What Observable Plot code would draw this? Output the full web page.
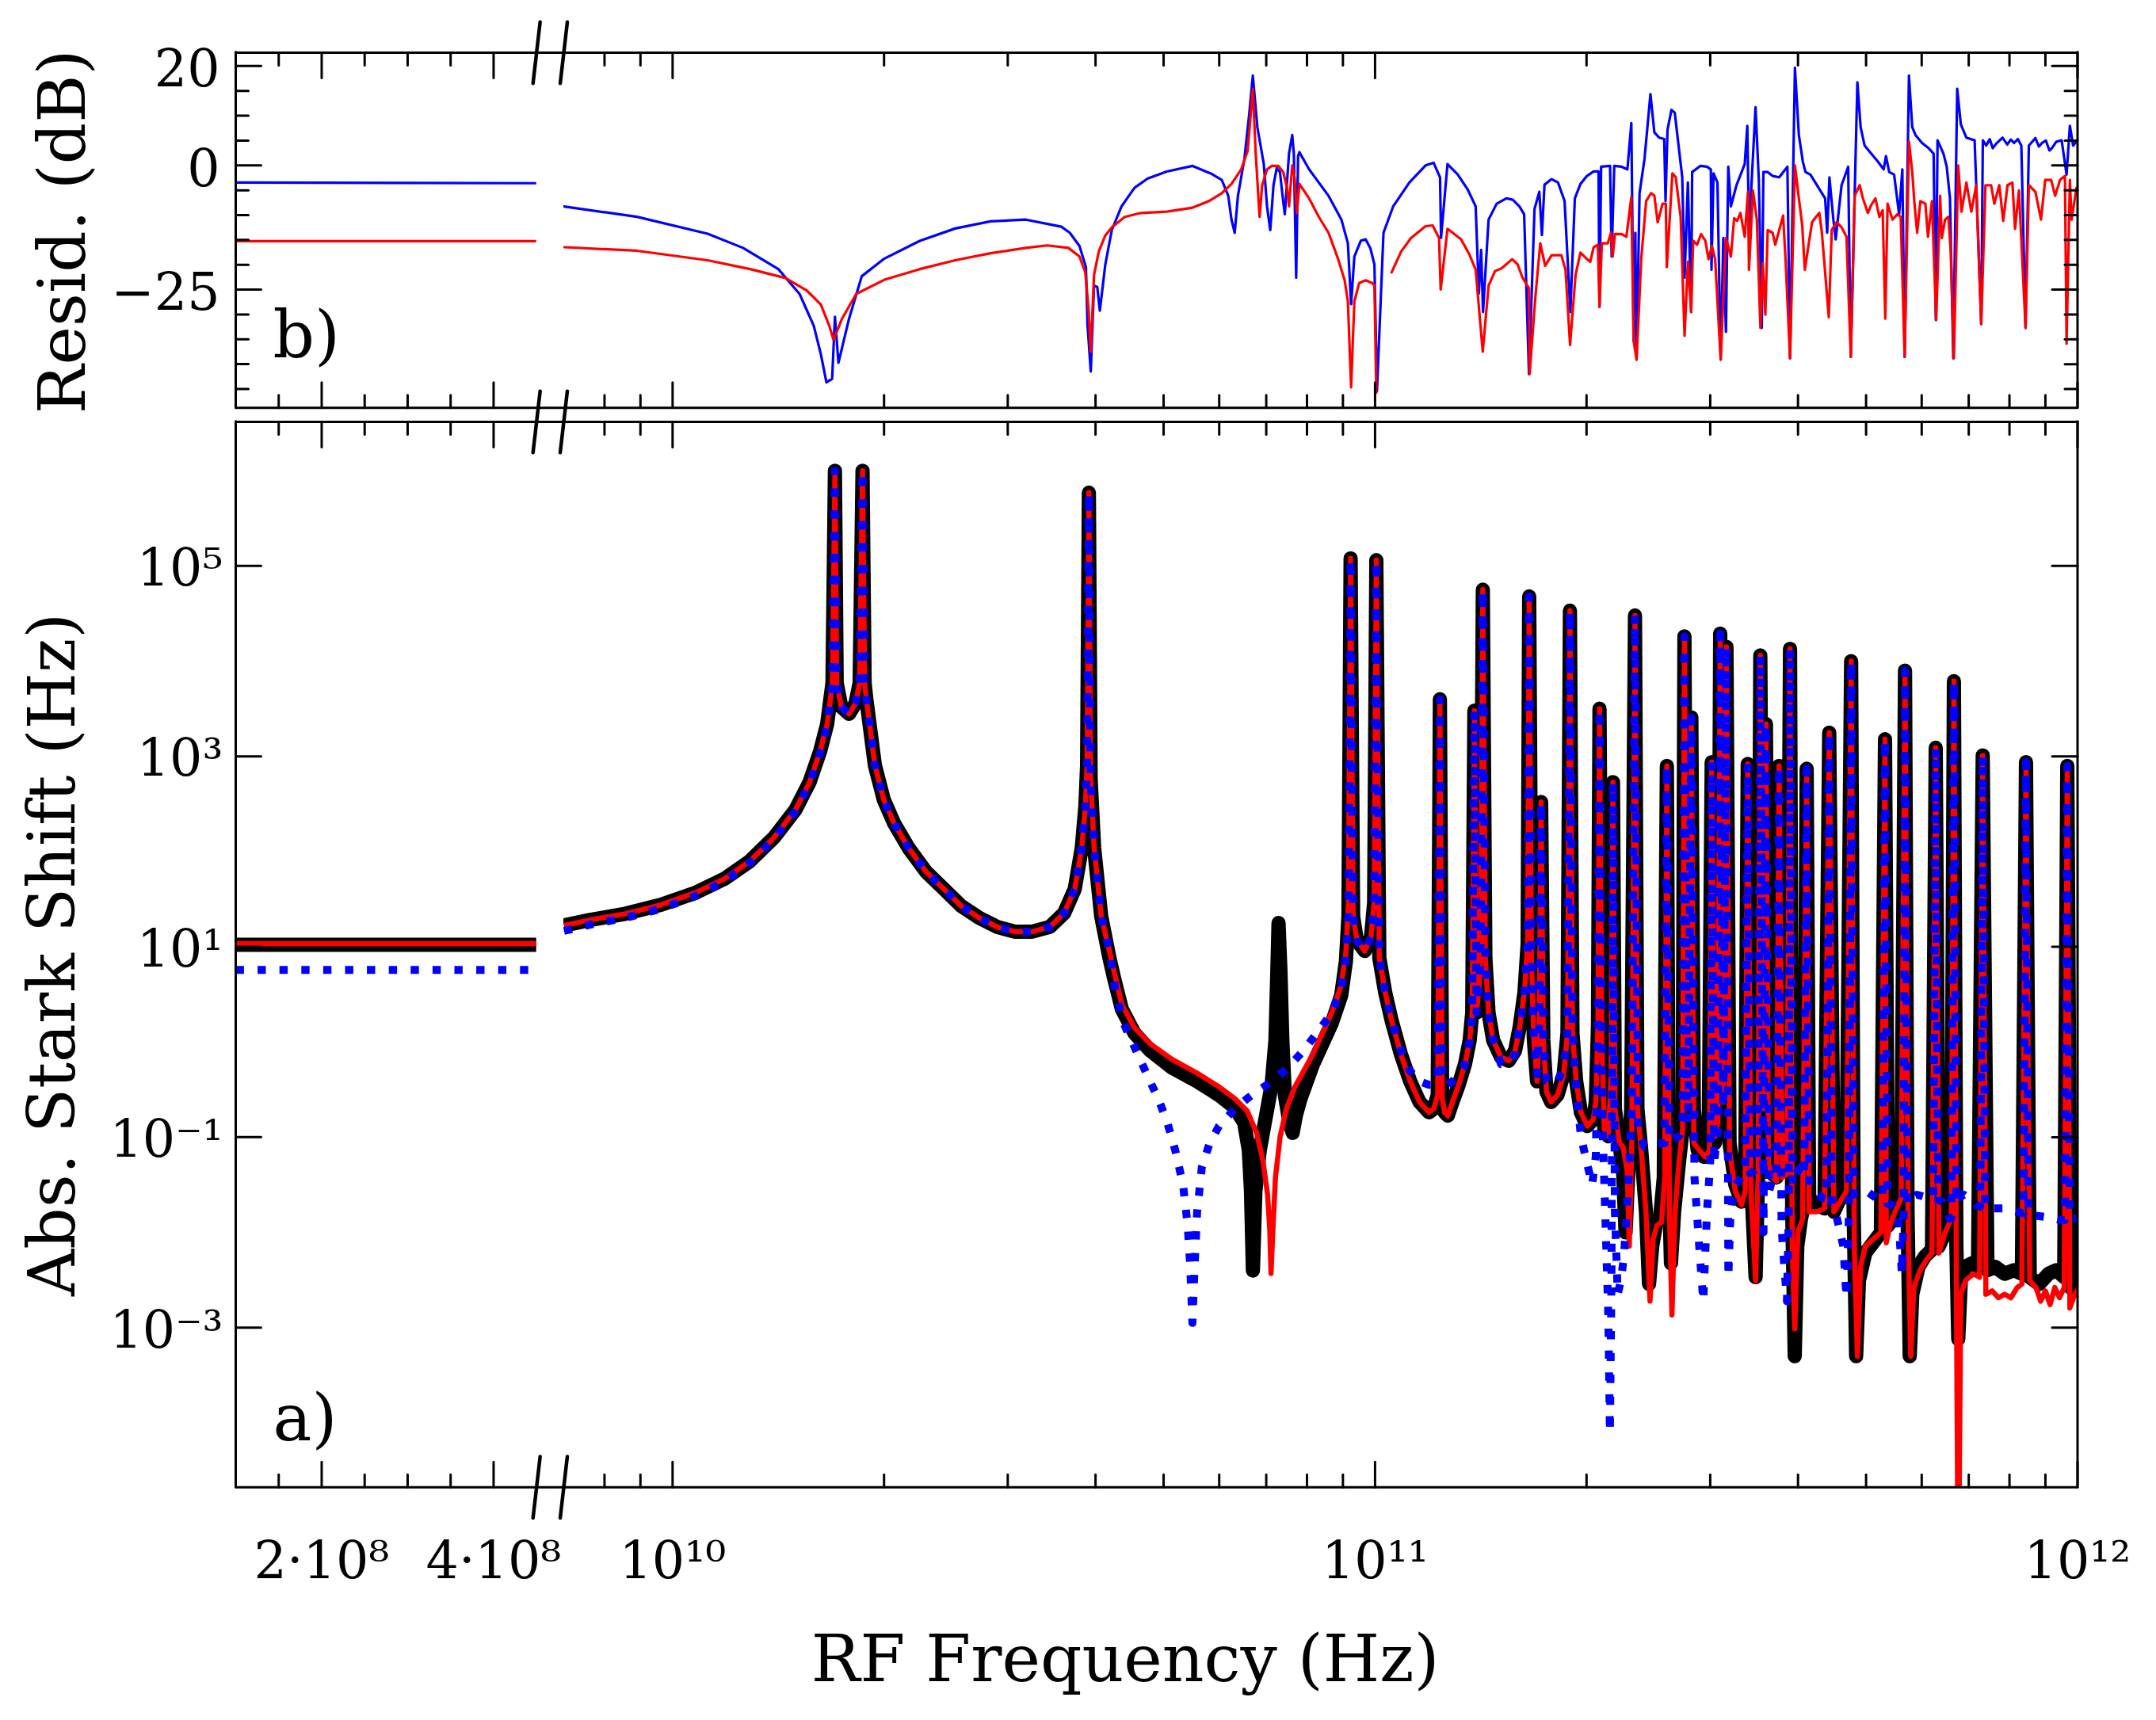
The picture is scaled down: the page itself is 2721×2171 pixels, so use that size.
<!DOCTYPE html>
<html>
<head>
<meta charset="utf-8">
<script src="https://cdn.jsdelivr.net/npm/d3@7"></script>
<script src="https://cdn.jsdelivr.net/npm/@observablehq/plot@0.6"></script>
<style>
  html, body { margin: 0; padding: 0; background: #fff; overflow: hidden; }
  #chart { position: relative; width: 2721px; height: 2171px; background: #fff; }
</style>
</head>
<body>
<div id="chart"></div>
<script>
// ---------------- DATA ----------------
// Frequencies and shifts are given as log10 exponents, residuals in dB.

// low-frequency segment (linear axis, 1e8 .. 4.5e8 Hz)
const lowFreq = [1e8, 4.5e8];
const lowExactShift = [10.5, 10.5];
const lowFitShift = [10.8, 10.8];
const lowApproxShift = [5.7, 5.7];
const lowResidApprox = [-3.43, -3.58];
const lowResidFit = [-15.25, -15.25];

// high-frequency segment, panel a: [log10 f, log10 shift]
const commonStart = [[9.8454,1.224],[9.8827,1.282],[9.9330,1.347],[9.9834,1.441],[10.0337,1.571],[10.0740,1.715],[10.1092,1.895],[10.1445,2.148],[10.1747,2.437],[10.1948,2.725],[10.2099,3.050],[10.2200,3.338],[10.2276,3.771]];
const approxStart = [[9.8454,1.167],[9.8827,1.232],[9.9330,1.304],[9.9834,1.398],[10.0337,1.535],[10.0740,1.686],[10.1092,1.874],[10.1445,2.133],[10.1747,2.422],[10.1948,2.711],[10.2099,3.035],[10.2200,3.331],[10.2276,3.764]];
const sharedPeaks1 = [[10.2311,6.00],[10.2336,3.771],[10.2402,3.519],[10.2512,3.447],[10.2603,3.555],[10.2663,3.771],[10.2704,6.00],[10.2734,3.771],[10.2754,3.627],[10.2804,3.338],[10.2880,2.906],[10.3006,2.545],[10.3157,2.292],[10.3358,2.040],[10.3610,1.787],[10.3862,1.607],[10.4113,1.426],[10.4365,1.304],[10.4617,1.210],[10.4869,1.159],[10.5121,1.159],[10.5372,1.210],[10.5574,1.354],[10.5725,1.607],[10.5825,2.040],[10.5876,2.473],[10.5901,2.906],[10.5926,5.77],[10.5951,2.761],[10.6001,2.040],[10.6102,1.318]];
const exactMid = [[10.6218,0.885],[10.6285,0.669],[10.6396,0.344],[10.6575,0.092],[10.6798,-0.089],[10.7110,-0.269],[10.7467,-0.413],[10.7779,-0.558],[10.8002,-0.688],[10.8136,-0.846],[10.8203,-1.135],[10.8234,-1.568],[10.8261,-2.40],[10.8296,-1.568],[10.8359,-1.135],[10.8448,-0.774],[10.8528,-0.449],[10.8582,0.019],[10.8609,0.741],[10.8626,1.25],[10.8653,0.741],[10.8680,0.019],[10.8716,-0.558],[10.8782,-0.846],[10.8827,-0.955],[10.8872,-0.774],[10.8939,-0.594],[10.9028,-0.413],[10.9117,-0.233],[10.9251,-0.017],[10.9385,0.200],[10.9518,0.489],[10.9585,0.849],[10.9621,1.318]];
const fitMid = [[10.6218,0.957],[10.6285,0.741],[10.6396,0.395],[10.6575,0.149],[10.6798,-0.017],[10.7110,-0.183],[10.7467,-0.327],[10.7779,-0.471],[10.8002,-0.594],[10.8180,-0.724],[10.8314,-0.955],[10.8403,-1.243],[10.8470,-1.604],[10.8501,-1.965],[10.8519,-2.43],[10.8546,-1.965],[10.8582,-1.423],[10.8649,-0.991],[10.8738,-0.702],[10.8849,-0.486],[10.8983,-0.305],[10.9117,-0.125],[10.9251,0.092],[10.9385,0.308],[10.9518,0.597],[10.9585,0.943],[10.9621,1.463]];
const approxMid = [[10.6218,0.957],[10.6307,0.525],[10.6419,0.200],[10.6553,-0.017],[10.6686,-0.233],[10.6798,-0.413],[10.6932,-0.630],[10.7043,-0.846],[10.7155,-1.135],[10.7266,-1.496],[10.7333,-1.928],[10.7369,-2.361],[10.7400,-2.95],[10.7431,-2.361],[10.7467,-1.784],[10.7534,-1.315],[10.7645,-1.063],[10.7779,-0.882],[10.8002,-0.702],[10.8180,-0.594],[10.8314,-0.522],[10.8537,-0.413],[10.8760,-0.269],[10.8983,-0.089],[10.9206,0.128],[10.9385,0.308],[10.9518,0.561],[10.9585,0.885],[10.9621,1.318]];
const exactPeaks2 = [[10.9652,5.08],[10.9688,1.318],[10.9741,1.066],[10.9853,0.957],[10.9942,1.102],[10.9987,1.463],[11.0018,5.06],[11.0060,0.885],[11.0143,0.525],[11.0232,0.236],[11.0366,-0.125],[11.0500,-0.413],[11.0633,-0.630],[11.0767,-0.738],[11.0834,-0.702],[11.0892,-0.558],[11.0923,3.60],[11.0955,-0.594],[11.0990,-0.738],[11.1035,-0.774],[11.1102,-0.630],[11.1191,-0.449],[11.1280,-0.233],[11.1347,0.019],[11.1383,0.308],[11.1414,3.48],[11.1445,0.308],[11.1481,0.597],[11.1503,0.885],[11.1534,4.75],[11.1570,0.885],[11.1615,0.308],[11.1681,0.019],[11.1793,-0.161],[11.1904,-0.197],[11.1994,-0.089],[11.2060,0.164],[11.2127,0.525],[11.2172,1.030],[11.2194,4.68],[11.2225,0.885],[11.2261,0.019],[11.2306,-0.413],[11.2337,0.164],[11.2364,2.52],[11.2395,0.019],[11.2440,-0.522],[11.2507,-0.630],[11.2596,-0.558],[11.2685,-0.341],[11.2739,0.092],[11.2774,4.53],[11.2810,0.092],[11.2863,-0.413],[11.2930,-0.738],[11.3019,-0.882],[11.3108,-0.810]];
const approxPeaks2 = [[10.9652,5.08],[10.9688,1.318],[10.9741,1.066],[10.9853,0.957],[10.9942,1.102],[10.9987,1.463],[11.0018,5.06],[11.0060,0.885],[11.0143,0.525],[11.0232,0.236],[11.0366,-0.089],[11.0500,-0.305],[11.0633,-0.413],[11.0767,-0.449],[11.0834,-0.449],[11.0892,-0.400],[11.0923,3.60],[11.0955,-0.413],[11.1035,-0.449],[11.1102,-0.413],[11.1191,-0.341],[11.1280,-0.233],[11.1347,0.019],[11.1383,0.308],[11.1414,3.48],[11.1445,0.308],[11.1481,0.597],[11.1503,0.885],[11.1534,4.75],[11.1570,0.885],[11.1615,0.308],[11.1681,0.019],[11.1793,-0.233],[11.1904,-0.233],[11.1994,-0.125],[11.2060,0.164],[11.2127,0.525],[11.2172,1.030],[11.2194,4.68],[11.2225,0.885],[11.2261,0.019],[11.2306,-0.341],[11.2337,0.164],[11.2364,2.52],[11.2395,0.019],[11.2440,-0.413],[11.2507,-0.449],[11.2596,-0.413],[11.2685,-0.269],[11.2739,0.092],[11.2774,4.53],[11.2810,0.092],[11.2863,-0.486],[11.2930,-0.991],[11.3019,-1.279],[11.3090,-1.50]];
const exactTail = [[11.3142,-0.630],[11.3173,0.164],[11.3195,3.50],[11.3227,0.019],[11.3263,-0.918],[11.3320,-0.991],[11.3361,-0.341],[11.3387,2.73],[11.3414,-0.702],[11.3477,-1.063],[11.3530,-1.351],[11.3566,-2.000],[11.3601,-1.423],[11.3646,-0.702],[11.3700,4.48],[11.3735,-0.702],[11.3789,-1.135],[11.3856,-1.784],[11.3900,-2.542],[11.3945,-2.145],[11.4003,-1.893],[11.4056,-1.856],[11.4110,-1.423],[11.4154,2.90],[11.4181,-1.423],[11.4212,-2.325],[11.4257,-1.784],[11.4324,-1.279],[11.4378,-0.918],[11.4404,4.26],[11.4440,-0.702],[11.4480,-0.558],[11.4502,3.41],[11.4538,-0.702],[11.4592,-1.135],[11.4681,-1.207],[11.4748,-1.135],[11.4792,2.94],[11.4837,-1.063],[11.4881,-0.846],[11.4913,4.29],[11.4957,-0.630],[11.5002,4.15],[11.5046,-1.063],[11.5127,-1.496],[11.5216,-1.676],[11.5269,-1.568],[11.5305,2.92],[11.5350,-1.423],[11.5417,-2.470],[11.5452,-1.423],[11.5484,4.06],[11.5528,-0.702],[11.5564,3.34],[11.5599,-1.063],[11.5662,-1.387],[11.5715,-1.423],[11.5751,2.90],[11.5796,-1.351],[11.5863,-1.351],[11.5907,4.13],[11.5938,-1.784],[11.5974,-3.30],[11.6010,-2.145],[11.6063,-1.856],[11.6108,-1.712],[11.6144,2.87],[11.6179,-1.640],[11.6286,-1.712],[11.6398,-1.748],[11.6465,3.25],[11.6532,-1.784],[11.6621,-1.640],[11.6710,-1.496],[11.6777,4.00],[11.6813,-1.784],[11.6848,-3.30],[11.6888,-2.506],[11.6978,-2.217],[11.7089,-2.109],[11.7201,-2.000],[11.7259,3.18],[11.7303,-1.928],[11.7401,-1.784],[11.7490,-1.640],[11.7544,3.90],[11.7580,-1.784],[11.7611,-3.30],[11.7647,-2.650],[11.7736,-2.361],[11.7825,-2.253],[11.7928,-2.181],[11.7981,3.09],[11.8026,-2.145],[11.8115,-2.000],[11.8204,-1.856],[11.8240,3.79],[11.8275,-2.145],[11.8302,-3.12],[11.8338,-2.506],[11.8405,-2.361],[11.8494,-2.325],[11.8583,-2.361],[11.8650,3.01],[11.8717,-2.397],[11.8828,-2.361],[11.8962,-2.434],[11.9096,-2.397],[11.9208,-2.434],[11.9266,2.94],[11.9319,-2.470],[11.9453,-2.542],[11.9587,-2.434],[11.9698,-2.397],[11.9810,-2.470],[11.9854,2.90],[11.9899,-2.578],[11.9979,-2.506],[12.0,-2.50]];
const fitTail = [[11.3142,-0.630],[11.3173,0.164],[11.3195,3.50],[11.3227,0.019],[11.3263,-0.918],[11.3320,-0.991],[11.3361,-0.341],[11.3387,2.73],[11.3414,-0.702],[11.3477,-1.063],[11.3530,-1.100],[11.3588,-1.351],[11.3619,-2.145],[11.3655,-1.063],[11.3700,4.48],[11.3735,-0.702],[11.3789,-1.135],[11.3856,-1.784],[11.3914,-2.722],[11.3958,-2.072],[11.4012,-1.928],[11.4079,-1.893],[11.4123,-1.423],[11.4154,2.90],[11.4190,-1.784],[11.4226,-2.866],[11.4270,-1.784],[11.4324,-1.279],[11.4378,-0.918],[11.4404,4.26],[11.4440,-0.702],[11.4480,-0.558],[11.4502,3.41],[11.4538,-1.063],[11.4614,-1.135],[11.4703,-1.207],[11.4761,-1.135],[11.4792,2.94],[11.4837,-0.991],[11.4881,-0.846],[11.4913,4.29],[11.4957,-0.630],[11.5002,4.15],[11.5046,-1.135],[11.5127,-1.568],[11.5216,-1.712],[11.5269,-1.568],[11.5305,2.92],[11.5350,-1.568],[11.5417,-2.506],[11.5452,-1.423],[11.5484,4.06],[11.5528,-0.702],[11.5564,3.34],[11.5599,-1.279],[11.5662,-1.423],[11.5715,-1.459],[11.5751,2.90],[11.5796,-1.423],[11.5863,-1.387],[11.5907,4.13],[11.5938,-2.145],[11.5974,-3.011],[11.6019,-2.000],[11.6086,-1.856],[11.6144,2.87],[11.6179,-1.784],[11.6286,-1.784],[11.6398,-1.748],[11.6465,3.25],[11.6532,-1.784],[11.6621,-1.676],[11.6710,-1.568],[11.6777,4.00],[11.6822,-2.145],[11.6866,-3.299],[11.6911,-2.361],[11.6978,-2.145],[11.7089,-2.072],[11.7201,-2.000],[11.7259,3.18],[11.7277,-2.109],[11.7330,-1.928],[11.7401,-1.784],[11.7490,-1.640],[11.7544,3.90],[11.7589,-2.000],[11.7625,-3.299],[11.7669,-2.578],[11.7758,-2.397],[11.7848,-2.289],[11.7928,-2.217],[11.7981,3.09],[11.8026,-2.217],[11.8115,-2.000],[11.8204,-1.856],[11.8240,3.79],[11.8275,-2.506],[11.8302,-6.0],[11.8338,-2.650],[11.8405,-2.506],[11.8516,-2.434],[11.8605,-2.470],[11.8650,3.01],[11.8695,-2.650],[11.8784,-2.614],[11.8873,-2.686],[11.8962,-2.650],[11.9052,-2.686],[11.9141,-2.578],[11.9208,-2.542],[11.9266,2.94],[11.9319,-2.506],[11.9408,-2.578],[11.9475,-2.722],[11.9542,-2.614],[11.9609,-2.758],[11.9676,-2.578],[11.9743,-2.686],[11.9810,-2.578],[11.9854,2.90],[11.9890,-2.794],[11.9943,-2.686],[12.0,-2.60]];
const approxTail = [[11.3142,-1.20],[11.3173,0.164],[11.3195,3.50],[11.3231,-0.702],[11.3276,-1.784],[11.3320,-2.866],[11.3343,-4.10],[11.3365,-2.506],[11.3387,2.73],[11.3414,-1.784],[11.3454,-2.650],[11.3499,-2.506],[11.3543,-2.253],[11.3610,-1.423],[11.3655,-0.702],[11.3700,4.48],[11.3744,-0.918],[11.3833,-1.099],[11.4012,-1.063],[11.4123,-1.063],[11.4154,2.90],[11.4190,-1.05],[11.4212,-1.027],[11.4324,-0.991],[11.4378,-0.918],[11.4404,4.26],[11.4440,-0.85],[11.4458,-0.846],[11.4502,3.41],[11.4547,-1.423],[11.4614,-2.145],[11.4672,-2.722],[11.4725,-1.784],[11.4770,-1.279],[11.4792,2.94],[11.4824,-1.279],[11.4881,-0.918],[11.4913,4.29],[11.4957,-0.702],[11.5002,4.15],[11.5029,-2.470],[11.5060,-1.784],[11.5127,-1.496],[11.5216,-1.423],[11.5269,-1.387],[11.5305,2.92],[11.5340,-1.38],[11.5394,-1.351],[11.5452,-1.279],[11.5484,4.06],[11.5530,-2.000],[11.5564,3.34],[11.5610,-1.568],[11.5662,-1.423],[11.5715,-1.423],[11.5751,2.90],[11.5786,-1.90],[11.5804,-2.145],[11.5863,-2.722],[11.5890,-1.784],[11.5907,4.13],[11.5942,-1.50],[11.5951,-1.423],[11.6063,-1.315],[11.6109,-1.40],[11.6144,2.87],[11.6179,-1.50],[11.6197,-1.532],[11.6376,-1.640],[11.6430,-1.65],[11.6465,3.25],[11.6500,-1.70],[11.6554,-1.784],[11.6666,-2.145],[11.6710,-2.686],[11.6746,-1.784],[11.6777,4.00],[11.6812,-1.60],[11.6866,-1.568],[11.7000,-1.568],[11.7134,-1.640],[11.7224,-1.66],[11.7259,3.18],[11.7294,-1.70],[11.7357,-1.712],[11.7446,-1.784],[11.7499,-2.434],[11.7526,-1.784],[11.7544,3.90],[11.7580,-1.70],[11.7624,-1.640],[11.7713,-1.604],[11.7892,-1.640],[11.7946,-1.64],[11.7981,3.09],[11.8016,-1.66],[11.8070,-1.676],[11.8182,-1.856],[11.8205,-1.85],[11.8240,3.79],[11.8275,-1.70],[11.8293,-1.640],[11.8383,-1.604],[11.8561,-1.712],[11.8615,-1.73],[11.8650,3.01],[11.8685,-1.74],[11.8784,-1.748],[11.8962,-1.748],[11.9141,-1.784],[11.9231,-1.80],[11.9266,2.94],[11.9301,-1.80],[11.9364,-1.820],[11.9587,-1.842],[11.9765,-1.871],[11.9820,-1.87],[11.9854,2.90],[11.9890,-1.86],[11.9979,-1.856],[12.0,-1.86]];

// panel b: [log10 f, residual dB]; null marks a gap
const residApproxHigh = [[9.8454,-8.27],[9.9491,-10.34],[10.0498,-13.75],[10.1002,-16.60],[10.1505,-20.87],[10.1807,-25.86],[10.2009,-32.27],[10.2110,-37.96],[10.2190,-43.66],[10.2271,-42.94],[10.2311,-30.48],[10.2361,-39.74],[10.2512,-30.84],[10.2693,-22.30],[10.3016,-18.74],[10.3519,-15.18],[10.4023,-12.69],[10.4526,-11.26],[10.5029,-10.91],[10.5533,-12.33],[10.5654,-13.55],[10.5792,-16.21],[10.5884,-20.47],[10.5907,-32.16],[10.5953,-41.47],[10.5999,-24.19],[10.6045,-24.45],[10.6082,-29.24],[10.6160,-19.93],[10.6252,-13.02],[10.6391,-8.24],[10.6575,-4.52],[10.6759,-2.66],[10.7035,-1.22],[10.7403,-0.10],[10.7680,-1.75],[10.7818,-2.92],[10.7910,-6.11],[10.7956,-10.90],[10.8002,-13.55],[10.8048,-6.11],[10.8140,1.33],[10.8209,10.37],[10.8260,18.08],[10.8324,7.71],[10.8416,0.27],[10.8462,-8.24],[10.8508,-13.02],[10.8554,-3.98],[10.8600,-0.53],[10.8646,-1.33],[10.8683,-6.11],[10.8715,-9.83],[10.8775,2.39],[10.8821,6.12],[10.8844,2.39],[10.8877,-22.59],[10.8904,1.86],[10.8923,2.66],[10.9061,-0.80],[10.9337,-6.11],[10.9521,-10.90],[10.9613,-15.68],[10.9659,-27.91],[10.9705,-18.34],[10.9797,-15.15],[10.9866,-14.88],[10.9935,-16.74],[10.9991,-19.93],[11.0027,-45.45],[11.0120,-13.55],[11.0258,-8.24],[11.0488,-3.45],[11.0718,0.00],[11.0833,0.53],[11.0925,-2.39],[11.0939,-14.62],[11.1031,0.27],[11.1178,-1.86],[11.1316,-4.78],[11.1432,-8.24],[11.1478,-25.78],[11.1510,-17.01],[11.1537,-29.5],[11.1616,-10.90],[11.1731,-7.71],[11.1869,-6.64],[11.1961,-6.91],[11.2053,-8.24],[11.2122,-9.83],[11.2191,-42.00],[11.2270,-8.77],[11.2338,-5.31],[11.2375,-14.0],[11.2412,-3.88],[11.2513,-2.76],[11.2605,-3.45],[11.2698,-7.18],[11.2780,-29.5],[11.2844,-6.64],[11.2924,-3.72],[11.3017,-2.12],[11.3111,-1.22],[11.3181,-1.22],[11.3195,-28.44],[11.3218,-0.26],[11.3345,-0.10],[11.3368,-18.34],[11.3405,-0.10],[11.3508,-0.26],[11.3592,-0.80],[11.3648,8.51],[11.3681,-35.35],[11.3705,-13.55],[11.3723,-39.07],[11.3765,-5.58],[11.3836,1.33],[11.3920,14.36],[11.3976,6.65],[11.4046,5.58],[11.4116,5.32],[11.4135,-7.18],[11.4163,7.18],[11.4219,11.17],[11.4266,10.63],[11.4373,-2.39],[11.4406,-22.59],[11.4453,-3.45],[11.4500,-29.50],[11.4514,-1.33],[11.4630,-0.10],[11.4724,-0.26],[11.4780,-0.80],[11.4789,-21.00],[11.4818,-1.59],[11.4874,-3.45],[11.4920,-39.07],[11.4958,-14.62],[11.4995,-33.49],[11.5028,-0.26],[11.5065,-8.24],[11.5145,-3.98],[11.5262,0.27],[11.5299,7.98],[11.5323,-13.55],[11.5416,11.70],[11.5463,-2.92],[11.5505,-32.69],[11.5528,-1.33],[11.5589,-1.33],[11.5659,-2.12],[11.5753,-2.39],[11.5870,-0.26],[11.5907,-38.81],[11.5977,19.67],[11.6033,6.12],[11.6089,0.80],[11.6127,-1.33],[11.6197,-1.86],[11.6267,-3.45],[11.6361,-5.58],[11.6407,-6.64],[11.6436,-13.55],[11.6468,-2.39],[11.6524,-10.90],[11.6557,-14.88],[11.6641,-3.98],[11.6735,-0.26],[11.6772,-38.54],[11.6866,16.75],[11.6912,7.71],[11.6969,3.99],[11.7062,2.39],[11.7156,0.80],[11.7240,-0.80],[11.7273,1.86],[11.7319,-1.33],[11.7389,-1.86],[11.7460,-9.83],[11.7506,-0.80],[11.7539,-38.54],[11.7600,18.08],[11.7647,7.71],[11.7693,6.12],[11.7787,4.52],[11.7880,3.46],[11.7951,2.39],[11.7983,-31.10],[11.8007,5.05],[11.8091,2.39],[11.8138,-0.26],[11.8184,-6.64],[11.8231,-38.81],[11.8287,15.42],[11.8339,8.24],[11.8418,5.58],[11.8535,5.05],[11.8629,-31.9],[11.8652,5.05],[11.8700,4.0],[11.8750,5.3],[11.8792,3.46],[11.8850,4.5],[11.8933,5.58],[11.9000,4.2],[11.9050,5.2],[11.9096,4.52],[11.9150,5.3],[11.9200,4.0],[11.9260,-32.69],[11.9307,3.99],[11.9400,5.5],[11.9450,3.8],[11.9494,4.52],[11.9550,5.0],[11.9600,3.0],[11.9634,3.46],[11.9700,4.8],[11.9774,5.05],[11.9844,-1.86],[11.9891,7.98],[11.9938,3.99],[12.0,5.05]];
const residFitHigh = [[9.8454,-16.46],[9.9491,-17.17],[10.0498,-19.09],[10.1103,-20.87],[10.1606,-22.65],[10.1908,-25.15],[10.2110,-27.99],[10.2230,-32.27],[10.2291,-35.11],[10.2412,-30.84],[10.2613,-25.86],[10.3016,-23.01],[10.3519,-20.87],[10.4023,-19.09],[10.4526,-17.67],[10.5029,-16.60],[10.5332,-16.10],[10.5634,-16.60],[10.5792,-18.34],[10.5875,-21.53],[10.5921,-28.97],[10.5953,-37.48],[10.5999,-22.06],[10.6068,-17.28],[10.6160,-14.09],[10.6252,-12.49],[10.6437,-10.36],[10.6667,-9.57],[10.7035,-9.30],[10.7403,-8.50],[10.7634,-7.18],[10.7818,-5.58],[10.7956,-3.72],[10.8094,-0.80],[10.8186,2.93],[10.8260,15.42],[10.8301,2.39],[10.8356,-10.36],[10.8393,-3.98],[10.8462,-0.80],[10.8531,-0.10],[10.8623,-0.10],[10.8692,-1.33],[10.8748,-4.52],[10.8775,-8.24],[10.8821,0.00],[10.8854,-2.39],[10.8886,-9.57],[10.8923,-3.72],[10.9061,-6.64],[10.9199,-10.36],[10.9337,-13.55],[10.9475,-18.87],[10.9567,-23.12],[10.9613,-27.38],[10.9659,-44.66],[10.9705,-27.38],[10.9774,-23.66],[10.9866,-23.12],[10.9958,-23.66],[10.9991,-24.19],[11.0018,-45.72],[11.0100,null],[11.0235,-21.53],[11.0373,-17.28],[11.0511,-14.62],[11.0718,-12.23],[11.0819,-12.07],[11.0911,-14.62],[11.0934,-24.98],[11.1031,-12.76],[11.1224,-14.88],[11.1339,-17.81],[11.1432,-21.00],[11.1533,-37.48],[11.1616,-24.19],[11.1708,-21.26],[11.1800,-20.73],[11.1952,-18.87],[11.2030,-19.93],[11.2099,-22.59],[11.2191,-24.72],[11.2200,-42.00],[11.2283,-26.31],[11.2352,-15.68],[11.2421,-20.20],[11.2513,-18.07],[11.2652,-18.07],[11.2711,-21.00],[11.2776,-36.15],[11.2854,-22.06],[11.2924,-17.54],[11.3017,-18.87],[11.3064,-19.40],[11.3111,-16.48],[11.3172,-15.95],[11.3195,-28.44],[11.3228,-15.68],[11.3312,-15.68],[11.3359,-13.55],[11.3382,-18.34],[11.3415,-13.82],[11.3508,-13.82],[11.3578,-14.35],[11.3648,-6.38],[11.3681,-35.35],[11.3723,-39.07],[11.3789,-18.87],[11.3859,-7.18],[11.3929,-5.58],[11.3976,-6.11],[11.4023,-11.43],[11.4093,-7.71],[11.4139,-7.71],[11.4153,-20.47],[11.4233,-1.59],[11.4280,-2.39],[11.4350,-10.36],[11.4406,-34.29],[11.4453,-19.40],[11.4500,-29.50],[11.4528,-15.15],[11.4584,-15.95],[11.4640,-13.82],[11.4701,-15.15],[11.4747,-18.87],[11.4794,-16.21],[11.4841,-18.87],[11.4920,-39.07],[11.4995,-14.62],[11.5065,-18.34],[11.5112,-10.63],[11.5154,-11.16],[11.5201,-9.57],[11.5262,-14.35],[11.5309,-5.31],[11.5323,-21.00],[11.5379,-5.05],[11.5435,-10.90],[11.5486,-32.69],[11.5519,-19.67],[11.5556,-30.03],[11.5589,-13.02],[11.5659,-13.55],[11.5697,-15.95],[11.5753,-13.02],[11.5809,-10.10],[11.5846,-19.67],[11.5907,-38.81],[11.5977,0.00],[11.6033,-6.64],[11.6080,-11.96],[11.6118,-21.00],[11.6174,-15.68],[11.6221,-11.43],[11.6277,-10.36],[11.6324,-9.57],[11.6361,-13.55],[11.6459,-30.57],[11.6501,-13.02],[11.6571,-11.43],[11.6641,-12.49],[11.6711,-14.35],[11.6772,-38.54],[11.6828,-6.11],[11.6898,-3.98],[11.6945,-6.64],[11.7015,-9.57],[11.7062,-7.97],[11.7123,-6.64],[11.7179,-10.36],[11.7226,-9.04],[11.7263,-30.83],[11.7296,-7.71],[11.7366,-10.90],[11.7436,-9.83],[11.7483,-10.36],[11.7539,-38.54],[11.7600,4.79],[11.7647,-1.33],[11.7679,-7.71],[11.7717,-13.55],[11.7763,-7.18],[11.7834,-7.71],[11.7871,-14.35],[11.7927,-7.18],[11.7988,-31.10],[11.8044,-6.11],[11.8068,-14.62],[11.8114,-10.90],[11.8161,-10.36],[11.8194,-17.01],[11.8240,-38.81],[11.8301,0.00],[11.8348,-9.30],[11.8418,-3.45],[11.8488,-9.30],[11.8558,-3.98],[11.8629,-31.9],[11.8689,-3.98],[11.8769,-3.98],[11.8816,-7.71],[11.8886,-3.98],[11.8942,-11.16],[11.9003,-3.98],[11.9073,-3.45],[11.9110,-12.76],[11.9166,-5.05],[11.9260,-32.69],[11.9307,-3.98],[11.9400,-5.31],[11.9480,-10.90],[11.9540,-2.92],[11.9625,-2.92],[11.9681,-6.11],[11.9751,-2.92],[11.9821,-2.12],[11.9844,-35.88],[11.9891,-2.92],[11.9915,-10.90],[11.9985,-4.52],[12.0,-4.5]];

// ticks and tick labels
const lowXMajor = [2e8, 4e8];
const lowXMinor = [1.5e8, 2.5e8, 3e8, 3.5e8];
const lowXLabels = ["2·10⁸", "4·10⁸"];
const highXMajor = [1e10, 1e11, 1e12];
const highXMinor = [8e9, 9e9, 2e10, 3e10, 4e10, 5e10, 6e10, 7e10, 8e10, 9e10, 2e11, 3e11, 4e11, 5e11, 6e11, 7e11, 8e11, 9e11];
const highXLabels = ["10¹⁰", "10¹¹", "10¹²"];
const residMajor = [-25, 0, 20];
const residMinor = [-45, -40, -35, -30, -20, -15, -10, -5, 5, 10, 15];
const residLabels = ["\u221225", "0", "20"];
const shiftMajor = [1e-3, 1e-1, 1e1, 1e3, 1e5];
const shiftLabels = ["10⁻³", "10⁻¹", "10¹", "10³", "10⁵"];

// ---------------- TABLES ----------------
const shiftTable = pairs => pairs.map(([fe, ve]) => ({f: 10 ** fe, v: ve === null ? NaN : 10 ** ve}));
const dbTable = pairs => pairs.map(([fe, db]) => ({f: 10 ** fe, v: db === null ? NaN : db}));
const lowTable = (vals, logY) => lowFreq.map((f, i) => ({f, v: vals[i]}));

const exactHigh = shiftTable([...commonStart, ...sharedPeaks1, ...exactMid, ...exactPeaks2, ...exactTail]);
const fitHigh = shiftTable([...commonStart, ...sharedPeaks1, ...fitMid, ...exactPeaks2, ...fitTail]);
const approxHigh = shiftTable([...approxStart, ...sharedPeaks1, ...approxMid, ...approxPeaks2, ...approxTail]);
const residApprox = dbTable(residApproxHigh);
const residFit = dbTable(residFitHigh);

// ---------------- LAYOUT / STYLE ----------------
const FONT = "DejaVu Serif";
const box = {left: 296.9, breakL: 676.6, breakR: 711.4, right: 2621.9, bTop: 66.1, bBot: 514.3, aTop: 532.1, aBot: 1876.9};
const gapHalf = (box.breakR - box.breakL) / 2;
const lowXScale = {type: "linear", domain: [1e8, 4.5e8]};
const highXScale = {type: "log", domain: [7e9, 1e12]};
const residYScale = {type: "linear", domain: [-48.78, 22.69]};
const shiftYScale = {type: "log", domain: [10 ** -4.677, 10 ** 6.513]};
const LW = {frame: 3, tick: 3, major: 32, minor: 16, slash: 4.5};
const tickShape = {draw(context, l) { context.moveTo(0, 0); context.lineTo(0, -l); }};

const chart = document.getElementById("chart");

function xTicks(values, len, side) {
  return Plot.vector(values, {x: d => d, frameAnchor: side, rotate: side === "bottom" ? 0 : 180,
    length: len, anchor: "start", shape: tickShape, stroke: "black", strokeWidth: LW.tick});
}
function yTicks(values, len, side) {
  return Plot.vector(values, {y: d => d, frameAnchor: side, rotate: side === "left" ? 90 : -90,
    length: len, anchor: "start", shape: tickShape, stroke: "black", strokeWidth: LW.tick});
}
function slash(anchor) {
  return Plot.vector([0], {frameAnchor: anchor, rotate: 6.6, length: 78, anchor: "middle",
    shape: tickShape, stroke: "black", strokeWidth: LW.slash});
}
function labelFn(vals, labels) {
  const m = new Map(vals.map((v, i) => [v, labels[i]]));
  return d => m.get(+d) ?? "";
}

function panel({left, top, width, height, x, y, marks}) {
  const svg = Plot.plot({
    width, height,
    marginTop: 0, marginRight: 0, marginBottom: 0, marginLeft: 0,
    x: {...x, axis: null}, y: {...y, axis: null},
    style: `background: transparent; overflow: visible; font-family: '${FONT}';`,
    marks
  });
  svg.style.position = "absolute";
  svg.style.left = left + "px";
  svg.style.top = top + "px";
  svg.style.overflow = "visible";
  svg.style.background = "transparent";
  svg.style.maxWidth = "none";
  chart.appendChild(svg);
}

const lowW = box.breakL - box.left, highW = box.right - box.breakR;
const bH = box.bBot - box.bTop, aH = box.aBot - box.aTop;

// ---------- panel b, low segment ----------
panel({left: box.left, top: box.bTop, width: lowW, height: bH, x: lowXScale, y: residYScale, marks: [
  Plot.line(lowTable(lowResidApprox), {x: "f", y: "v", stroke: "#0000ff", strokeWidth: 3.2, clip: true}),
  Plot.line(lowTable(lowResidFit), {x: "f", y: "v", stroke: "#ff0000", strokeWidth: 3.2, clip: true}),
  Plot.ruleY(residYScale.domain, {stroke: "black", strokeWidth: LW.frame, insetRight: -gapHalf}),
  Plot.ruleX([lowXScale.domain[0]], {stroke: "black", strokeWidth: LW.frame, insetTop: -1.5, insetBottom: -1.5}),
  xTicks(lowXMajor, LW.major, "top"), xTicks(lowXMinor, LW.minor, "top"),
  xTicks(lowXMajor, LW.major, "bottom"), xTicks(lowXMinor, LW.minor, "bottom"),
  yTicks(residMajor, LW.major, "left"), yTicks(residMinor, LW.minor, "left"),
  Plot.axisY(residMajor, {anchor: "left", tickSize: 0, tickPadding: 20, dy: 5, tickFormat: labelFn(residMajor, residLabels),
    fontSize: 65, fontFamily: FONT, fill: "black", label: null}),
  slash("top-right"),
  Plot.text(["b)"], {frameAnchor: "top-left", dx: 47, dy: 326.7, lineAnchor: "top", textAnchor: "start",
    fontSize: 82, fontFamily: FONT, fill: "black"}),
  Plot.text(["Resid. (dB)"], {frameAnchor: "left", dx: 47.8 - box.left, dy: 1.8, rotate: -90, lineAnchor: "top",
    textAnchor: "middle", fontSize: 82, fontFamily: FONT, fill: "black"})
]});

// ---------- panel b, high segment ----------
panel({left: box.breakR, top: box.bTop, width: highW, height: bH, x: highXScale, y: residYScale, marks: [
  Plot.line(residApprox, {x: "f", y: "v", stroke: "#0000ff", strokeWidth: 3.2, clip: true}),
  Plot.line(residFit, {x: "f", y: "v", stroke: "#ff0000", strokeWidth: 3.2, clip: true}),
  Plot.ruleY(residYScale.domain, {stroke: "black", strokeWidth: LW.frame, insetLeft: -gapHalf}),
  Plot.ruleX([highXScale.domain[1]], {stroke: "black", strokeWidth: LW.frame, insetTop: -1.5, insetBottom: -1.5}),
  xTicks(highXMajor, LW.major, "top"), xTicks(highXMinor, LW.minor, "top"),
  xTicks(highXMajor, LW.major, "bottom"), xTicks(highXMinor, LW.minor, "bottom"),
  yTicks(residMajor, LW.major, "right"), yTicks(residMinor, LW.minor, "right"),
  slash("top-left")
]});

// ---------- panel a, low segment ----------
panel({left: box.left, top: box.aTop, width: lowW, height: aH, x: lowXScale, y: shiftYScale, marks: [
  Plot.line(lowTable(lowExactShift), {x: "f", y: "v", stroke: "black", strokeWidth: 18, strokeLinecap: "butt", clip: true}),
  Plot.line(lowTable(lowFitShift), {x: "f", y: "v", stroke: "#ff0000", strokeWidth: 6.5, strokeLinecap: "butt", clip: true}),
  Plot.line(lowTable(lowApproxShift), {x: "f", y: "v", stroke: "#0000ff", strokeWidth: 10, strokeLinecap: "butt",
    strokeDasharray: "10.4,17.2", clip: true}),
  Plot.ruleY(shiftYScale.domain, {stroke: "black", strokeWidth: LW.frame, insetRight: -gapHalf}),
  Plot.ruleX([lowXScale.domain[0]], {stroke: "black", strokeWidth: LW.frame, insetTop: -1.5, insetBottom: -1.5}),
  xTicks(lowXMajor, LW.major, "top"), xTicks(lowXMinor, LW.minor, "top"),
  xTicks(lowXMajor, LW.major, "bottom"), xTicks(lowXMinor, LW.minor, "bottom"),
  yTicks(shiftMajor, LW.major, "left"),
  Plot.axisY(shiftMajor, {anchor: "left", tickSize: 0, tickPadding: 16, dy: 4, tickFormat: labelFn(shiftMajor, shiftLabels),
    fontSize: 65, fontFamily: FONT, fill: "black", label: null}),
  Plot.axisX(lowXMajor, {anchor: "bottom", tickSize: 0, tickPadding: 69, tickFormat: labelFn(lowXMajor, lowXLabels),
    fontSize: 65, fontFamily: FONT, fill: "black", label: null}),
  slash("top-right"), slash("bottom-right"),
  Plot.text(["a)"], {frameAnchor: "bottom-left", dx: 47, dy: -117.1, lineAnchor: "top", textAnchor: "start",
    fontSize: 82, fontFamily: FONT, fill: "black"}),
  Plot.text(["Abs. Stark Shift (Hz)"], {frameAnchor: "left", dx: 34.8 - box.left, dy: 0, rotate: -90, lineAnchor: "top",
    textAnchor: "middle", fontSize: 82, fontFamily: FONT, fill: "black"})
]});

// ---------- panel a, high segment ----------
panel({left: box.breakR, top: box.aTop, width: highW, height: aH, x: highXScale, y: shiftYScale, marks: [
  Plot.line(exactHigh, {x: "f", y: "v", stroke: "black", strokeWidth: 18, strokeLinecap: "butt", strokeLinejoin: "round", clip: true}),
  Plot.line(fitHigh, {x: "f", y: "v", stroke: "#ff0000", strokeWidth: 6.5, strokeLinecap: "butt", strokeLinejoin: "round", clip: true}),
  Plot.line(approxHigh, {x: "f", y: "v", stroke: "#0000ff", strokeWidth: 10, strokeLinecap: "butt",
    strokeDasharray: "10.4,17.2", clip: true}),
  Plot.ruleY(shiftYScale.domain, {stroke: "black", strokeWidth: LW.frame, insetLeft: -gapHalf}),
  Plot.ruleX([highXScale.domain[1]], {stroke: "black", strokeWidth: LW.frame, insetTop: -1.5, insetBottom: -1.5}),
  xTicks(highXMajor, LW.major, "top"), xTicks(highXMinor, LW.minor, "top"),
  xTicks(highXMajor, LW.major, "bottom"), xTicks(highXMinor, LW.minor, "bottom"),
  yTicks(shiftMajor, LW.major, "right"),
  Plot.axisX(highXMajor, {anchor: "bottom", tickSize: 0, tickPadding: 69, tickFormat: labelFn(highXMajor, highXLabels),
    fontSize: 65, fontFamily: FONT, fill: "black", label: null}),
  slash("top-left"), slash("bottom-left"),
  Plot.text(["RF Frequency (Hz)"], {frameAnchor: "bottom-left", dx: 1420 - box.breakR, dy: 186.9, lineAnchor: "top",
    textAnchor: "middle", fontSize: 82, fontFamily: FONT, fill: "black"})
]});
</script>
</body>
</html>
